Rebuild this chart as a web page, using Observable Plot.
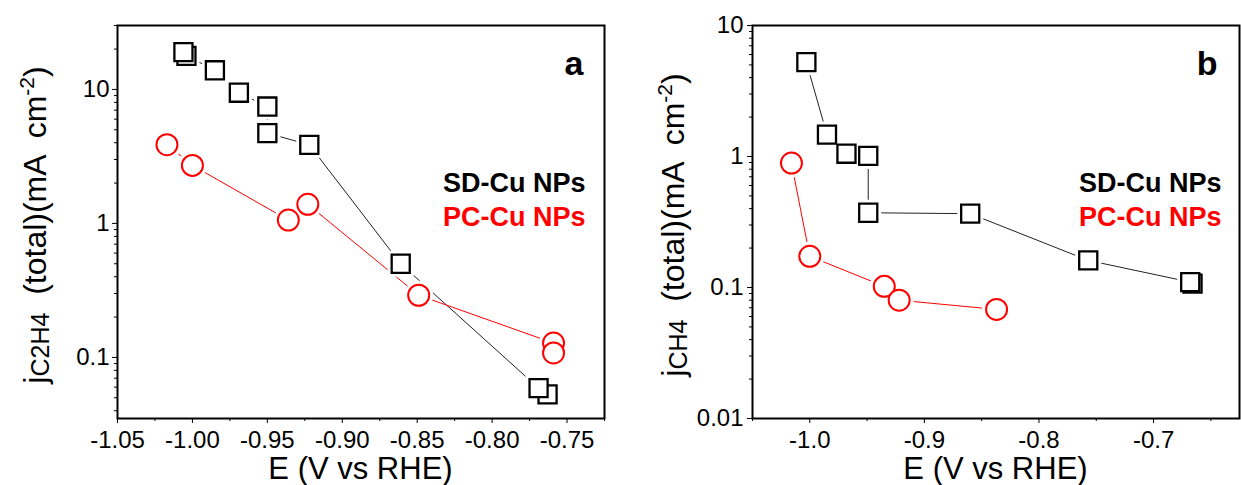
<!DOCTYPE html>
<html><head><meta charset="utf-8">
<script src="https://cdn.jsdelivr.net/npm/d3@7"></script>
<script src="https://cdn.jsdelivr.net/npm/@observablehq/plot@0.6"></script>
<style>
html,body{margin:0;padding:0;background:#fff;}
#wrap{position:relative;width:1241px;height:485px;overflow:hidden;background:#fff;}
#wrap svg{position:absolute;top:0;}
</style></head><body><div id="wrap"></div>
<script>
// ---------- data ----------
// Panel a: j C2H4
const aSD_E = [-1.006, -1.004, -0.985, -0.969, -0.950, -0.950, -0.922, -0.861, -0.769, -0.763];
const aSD_j = [19.0, 17.8, 13.9, 9.45, 7.45, 4.72, 3.86, 0.50, 0.059, 0.053];
const aPC_E = [-1.017, -1.000, -0.936, -0.923, -0.849, -0.759, -0.759];
const aPC_j = [3.87, 2.71, 1.06, 1.39, 0.291, 0.128, 0.108];
// Panel b: j CH4
const bSD_E = [-1.003, -0.985, -0.968, -0.949, -0.949, -0.860, -0.757, -0.668, -0.666];
const bSD_j = [5.25, 1.47, 1.05, 1.01, 0.372, 0.366, 0.161, 0.110, 0.107];
const bPC_E = [-1.016, -1.000, -0.935, -0.922, -0.837];
const bPC_j = [0.891, 0.173, 0.102, 0.080, 0.068];

const seriesNames = ["SD-Cu NPs", "PC-Cu NPs"];
const seriesColors = ["black", "#ff0000"];
const panelLetters = ["a", "b"];

// tick values
const aXTicks = [-1.05, -1.00, -0.95, -0.90, -0.85, -0.80, -0.75];
const aXMinor = [-1.025, -0.975, -0.925, -0.875, -0.825, -0.775, -0.725];
const aYTicks = [0.1, 1, 10];
const aYMinor = [0.04, 0.05, 0.06, 0.07, 0.08, 0.09, 0.2, 0.3, 0.4, 0.5, 0.6, 0.7, 0.8, 0.9, 2, 3, 4, 5, 6, 7, 8, 9, 20, 30];
const bXTicks = [-1.0, -0.9, -0.8, -0.7];
const bXMinor = [-1.05, -0.95, -0.85, -0.75, -0.65];
const bYTicks = [0.01, 0.1, 1, 10];
const bYMinor = [0.02, 0.03, 0.04, 0.05, 0.06, 0.07, 0.08, 0.09, 0.2, 0.3, 0.4, 0.5, 0.6, 0.7, 0.8, 0.9, 2, 3, 4, 5, 6, 7, 8, 9];

const FONT = "Arial, 'Liberation Sans', Helvetica, sans-serif";

function rows(E, j) { return E.map((e, i) => ({E: e, j: j[i]})); }

function panel(o) {
  const sd = rows(o.sdE, o.sdJ), pc = rows(o.pcE, o.pcJ);
  const sqR = 10.2, ciR = 10.5;
  const svg = Plot.plot({
    width: o.width, height: 485,
    marginLeft: o.ml, marginRight: o.mr, marginTop: 25, marginBottom: 67,
    style: {fontFamily: FONT, fontSize: "24px", color: "black", background: "transparent", overflow: "visible"},
    x: {domain: o.xDomain},
    y: {type: "log", domain: o.yDomain},
    marks: [
      Plot.axisX(o.xMinor, {tickSize: 3, tickFormat: () => "", label: null}),
      Plot.axisX(o.xTicks, {tickSize: 5, tickPadding: 7, tickFormat: d => d.toFixed(o.xDec), fontSize: 24, label: null}),
      Plot.axisY(o.yMinor, {tickSize: 3, tickFormat: () => "", label: null}),
      Plot.axisY(o.yTicks, {tickSize: 5, tickPadding: o.yPad, tickFormat: d => String(d), fontSize: 24, label: null}),
      Plot.line(sd, {x: "E", y: "j", stroke: "#222", strokeWidth: 1}),
      Plot.line(pc, {x: "E", y: "j", stroke: seriesColors[1], strokeWidth: 1}),
      Plot.dot(sd, {x: "E", y: "j", symbol: "square", r: sqR, fill: "white", stroke: "white", strokeWidth: 8}),
      Plot.dot(pc, {x: "E", y: "j", symbol: "circle", r: ciR, fill: "white", stroke: "white", strokeWidth: 8}),
      Plot.dot(sd.slice().reverse(), {x: "E", y: "j", symbol: "square", r: sqR, fill: "white", stroke: seriesColors[0], strokeWidth: 2.3}),
      Plot.dot(pc, {x: "E", y: "j", symbol: "circle", r: ciR, fill: "white", stroke: seriesColors[1], strokeWidth: 2}),
      Plot.frame({stroke: "black", strokeWidth: 2}),
      Plot.text([seriesNames[0]], {text: d => d, frameAnchor: "top-right", dx: o.legDx, dy: 158, textAnchor: "end", lineAnchor: "middle", fontSize: 27, fontWeight: "bold", fill: seriesColors[0]}),
      Plot.text([seriesNames[1]], {text: d => d, frameAnchor: "top-right", dx: o.legDx, dy: 192, textAnchor: "end", lineAnchor: "middle", fontSize: 27, fontWeight: "bold", fill: seriesColors[1]}),
      Plot.text([o.letter], {text: d => d, frameAnchor: "top-right", dx: o.letDx, dy: 39, textAnchor: "end", lineAnchor: "middle", fontSize: 34, fontWeight: "bold", fill: "black"})
    ]
  });
  const s = d3.select(svg);
  s.style("left", o.left + "px");
  // x-axis title
  s.append("text")
    .attr("x", o.ml + (o.width - o.ml - o.mr) / 2).attr("y", 479)
    .attr("text-anchor", "middle").style("font-size", "31px").style("font-family", FONT)
    .attr("fill", "black").text("E (V vs RHE)");
  // y-axis title with sub/superscript
  const t = s.append("text")
    .attr("transform", `translate(${o.yTitleX},225) rotate(-90)`)
    .attr("text-anchor", "middle").style("font-size", "32px").style("font-family", FONT)
    .style("white-space", "pre").attr("fill", "black");
  t.append("tspan").text("j");
  t.append("tspan").style("font-size", "25px").attr("dy", "3").text(o.sub);
  t.append("tspan").attr("dy", "-3").text("  (total)(mA  cm");
  t.append("tspan").style("font-size", "21px").attr("dy", "-12").text("-2");
  t.append("tspan").attr("dy", "12").text(")");
  return svg;
}

const wrap = document.getElementById("wrap");
wrap.appendChild(panel({
  sdE: aSD_E, sdJ: aSD_j, pcE: aPC_E, pcJ: aPC_j,
  width: 620, ml: 117, mr: 16, left: 0,
  xDomain: [-1.05, -0.725], yDomain: [0.035, 30],
  xTicks: aXTicks, xMinor: aXMinor, yTicks: aYTicks, yMinor: aYMinor, xDec: 2, yPad: 3,
  legDx: -19, letDx: -21, letter: panelLetters[0], sub: "C2H4", yTitleX: 46
}));
wrap.appendChild(panel({
  sdE: bSD_E, sdJ: bSD_j, pcE: bPC_E, pcJ: bPC_j,
  width: 621, ml: 132, mr: 2, left: 620,
  xDomain: [-1.05, -0.625], yDomain: [0.01, 10],
  xTicks: bXTicks, xMinor: bXMinor, yTicks: bYTicks, yMinor: bYMinor, xDec: 1, yPad: 4,
  legDx: -18, letDx: -22, letter: panelLetters[1], sub: "CH4", yTitleX: 64
}));
</script></body></html>
